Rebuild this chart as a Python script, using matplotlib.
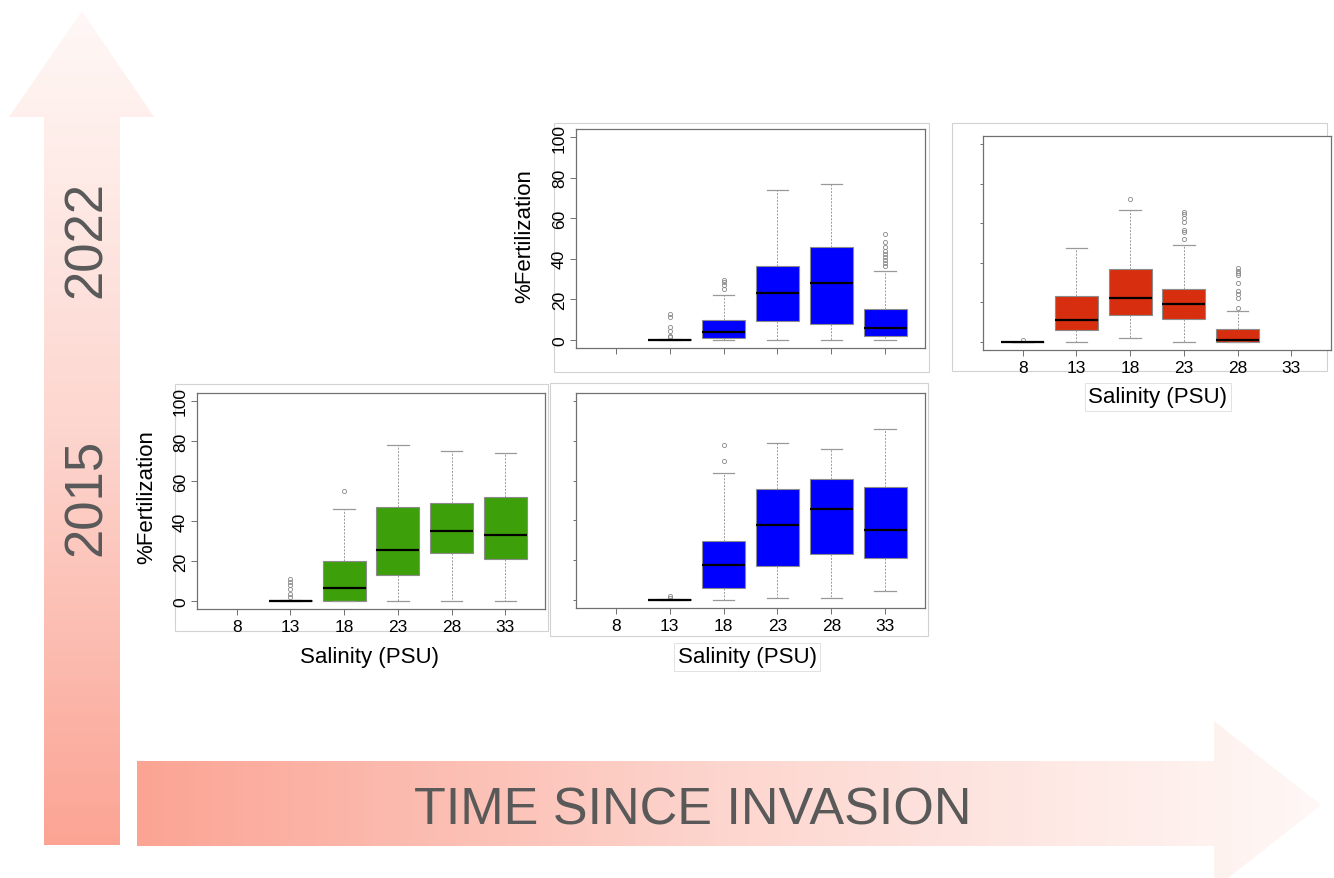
import numpy as np
import matplotlib
matplotlib.use('Agg')
import matplotlib.pyplot as plt
from matplotlib.patches import Polygon, Rectangle
from matplotlib.colors import LinearSegmentedColormap

plt.rcParams['font.family'] = ['Liberation Sans', 'DejaVu Sans']

W, H = 1334, 879
nan = np.nan

salinity = ['8', '13', '18', '23', '28', '33']

# 2022 - top middle (blue)
a_med = [nan, 0.1, 4.1, 23, 28, 6]
a_q1 = [nan, 0, 1, 9.5, 7.9, 2]
a_q3 = [nan, 0.4, 10, 36.5, 46, 15]
a_lo = [nan, 0, 0, 0, 0, 0]
a_hi = [nan, 0.4, 22, 73.8, 77, 33.9]
a_out = [[], [1.3, 2.1, 4.3, 6.2, 11.2, 12.8], [25.2, 27.3, 28.5, 29.6], [], [],
         [36.2, 38, 39.5, 40.8, 42.4, 44, 45.7, 48.2, 52]]

# 2022 - top right (red)
b_med = [0, 11, 22, 19, 1.2, nan]
b_q1 = [0, 5.9, 13.9, 11.4, 0, nan]
b_q3 = [0.2, 23, 37, 27, 6.7, nan]
b_lo = [0, 0, 2.2, 0, 0, nan]
b_hi = [0.2, 47.7, 66.8, 49, 15.9, nan]
b_out = [[1.2], [], [72], [51.9, 55.8, 56.4, 60.6, 62.8, 64.5, 65.8],
         [17.3, 22.1, 24.3, 26, 30, 33.8, 34.7, 36, 37.4], []]

# 2015 - bottom left (green)
c_med = [nan, 0.1, 6.5, 25.5, 35, 33.2]
c_q1 = [nan, 0, 0, 13, 24, 21]
c_q3 = [nan, 0.3, 19.9, 47, 49, 52]
c_lo = [nan, 0, 0, 0, 0, 0]
c_hi = [nan, 0.3, 45.9, 78, 75, 74]
c_out = [[], [2.0, 3.7, 5.8, 7.8, 9.5, 11.2], [55], [], [], []]

# 2015 - bottom middle (blue)
d_med = [nan, 0.1, 17.4, 37.5, 45.6, 35]
d_q1 = [nan, 0, 5.9, 16.9, 22.9, 21]
d_q3 = [nan, 0.3, 29.8, 56, 61, 57]
d_lo = [nan, 0, 0, 1, 1, 4.4]
d_hi = [nan, 0.3, 63.8, 79, 76, 86]
d_out = [[], [1.2, 2.0], [69.8, 77.9], [], [], []]

fig = plt.figure(figsize=(W / 100, H / 100), dpi=100)
fig.patch.set_facecolor('white')

# background layer in pixel coords
bg = fig.add_axes([0, 0, 1, 1], zorder=0)
bg.set_xlim(0, W)
bg.set_ylim(H, 0)
bg.axis('off')

cmap = LinearSegmentedColormap.from_list('arr', ['#fba494', '#fdd6cf', '#fff8f6'])
g = np.linspace(0, 1, 256)

# vertical arrow
vpts = [(44, 846), (44, 118), (9, 118), (82, 12), (154, 118), (120, 118), (120, 846)]
vpoly = Polygon(vpts, closed=True, facecolor='none', edgecolor='none')
bg.add_patch(vpoly)
im = bg.imshow(g[::-1][:, None], cmap=cmap, extent=(9, 154, 846, 12), origin='upper',
               aspect='auto', vmin=0, vmax=1)
im.set_clip_path(vpoly)

# horizontal arrow
hpts = [(137, 762), (1214, 762), (1214, 722), (1321, 806), (1214, 890), (1214, 847), (137, 847)]
hpoly = Polygon(hpts, closed=True, facecolor='none', edgecolor='none')
bg.add_patch(hpoly)
im2 = bg.imshow(g[None, :], cmap=cmap, extent=(137, 1321, 890, 722), origin='upper',
                aspect='auto', vmin=0, vmax=1)
im2.set_clip_path(hpoly)
bg.set_xlim(0, W)
bg.set_ylim(H, 0)

txtc = '#595959'
bg.text(87, 240, '2022', rotation=90, ha='center', va='center', fontsize=38, color=txtc)
bg.text(87, 497, '2015', rotation=90, ha='center', va='center', fontsize=38, color=txtc)
bg.text(693, 806, 'TIME SINCE INVASION', ha='center', va='center_baseline', fontsize=37.5,
        color=txtc)

# frames of the pasted panels
for (x0, y0, x1, y1) in [(554, 124, 929, 373), (952, 124, 1327, 372),
                         (175, 385, 548, 632), (550, 384, 928, 637)]:
    bg.add_patch(Rectangle((x0, y0), x1 - x0, y1 - y0, facecolor='white',
                           edgecolor='#d2d2d2', lw=0.8))


def panel(box, med, q1, q3, lo, hi, out, color, ylabels, xlabels):
    x0, y0, x1, y1 = box
    ax = fig.add_axes([x0 / W, 1 - y1 / H, (x1 - x0) / W, (y1 - y0) / H], zorder=2)
    stats, pos = [], []
    for i in range(len(salinity)):
        if np.isnan(med[i]):
            continue
        stats.append(dict(med=med[i], q1=q1[i], q3=q3[i], whislo=lo[i], whishi=hi[i],
                          fliers=out[i]))
        pos.append(i + 1)
    ax.bxp(stats, positions=pos, widths=0.8, patch_artist=True, manage_ticks=False,
           boxprops=dict(facecolor=color, edgecolor='#8c8c8c', lw=0.8),
           medianprops=dict(color='black', lw=1.6),
           whiskerprops=dict(color='#999999', lw=0.7, ls=(0, (2, 1.5))),
           capprops=dict(color='#999999', lw=0.9),
           capwidths=0.4,
           flierprops=dict(marker='o', markersize=3, markerfacecolor='none',
                           markeredgecolor='#888888', markeredgewidth=0.6))
    ax.set_xlim(0.26, 6.74)
    ax.set_ylim(-4, 104)
    ax.set_xticks(range(1, 7))
    ax.set_yticks(range(0, 101, 20))
    for s in ax.spines.values():
        s.set_color('#707070')
        s.set_linewidth(0.9)
    ax.tick_params(colors='#707070', length=4, width=0.7)
    if xlabels:
        ax.set_xticklabels(salinity)
        ax.tick_params(axis='x', labelsize=12.5, labelcolor='black', pad=3.5)
    else:
        ax.set_xticklabels([])
    if ylabels:
        ax.set_yticklabels([str(v) for v in range(0, 101, 20)], rotation=90, va='center')
        ax.tick_params(axis='y', labelsize=12.5, labelcolor='black', pad=2.5)
    else:
        ax.set_yticklabels([])
        ax.tick_params(axis='y', length=2.5)
    return ax


panel((576, 130, 925, 349), a_med, a_q1, a_q3, a_lo, a_hi, a_out, '#0000ff', True, False)
panel((983, 137, 1331, 351), b_med, b_q1, b_q3, b_lo, b_hi, b_out, '#d72e0f', False, True)
panel((197, 394, 545, 610), c_med, c_q1, c_q3, c_lo, c_hi, c_out, '#3da00b', True, True)
panel((576, 394, 925, 609), d_med, d_q1, d_q3, d_lo, d_hi, d_out, '#0000ff', False, True)

# axis titles
lab = dict(fontsize=16, color='black', ha='center', va='center', zorder=3)
bg.text(525, 236, '%Fertilization', rotation=90, **lab)
bg.text(147, 497, '%Fertilization', rotation=90, **lab)
bg.text(370, 658, 'Salinity (PSU)', **lab)
box = dict(facecolor='white', edgecolor='#dddddd', lw=0.6, boxstyle='square,pad=0.15')
bg.text(1158, 398, 'Salinity (PSU)', bbox=box, **lab)
bg.text(747, 658, 'Salinity (PSU)', bbox=box, **lab)

fig.savefig('out.png', dpi=100, facecolor='white')
